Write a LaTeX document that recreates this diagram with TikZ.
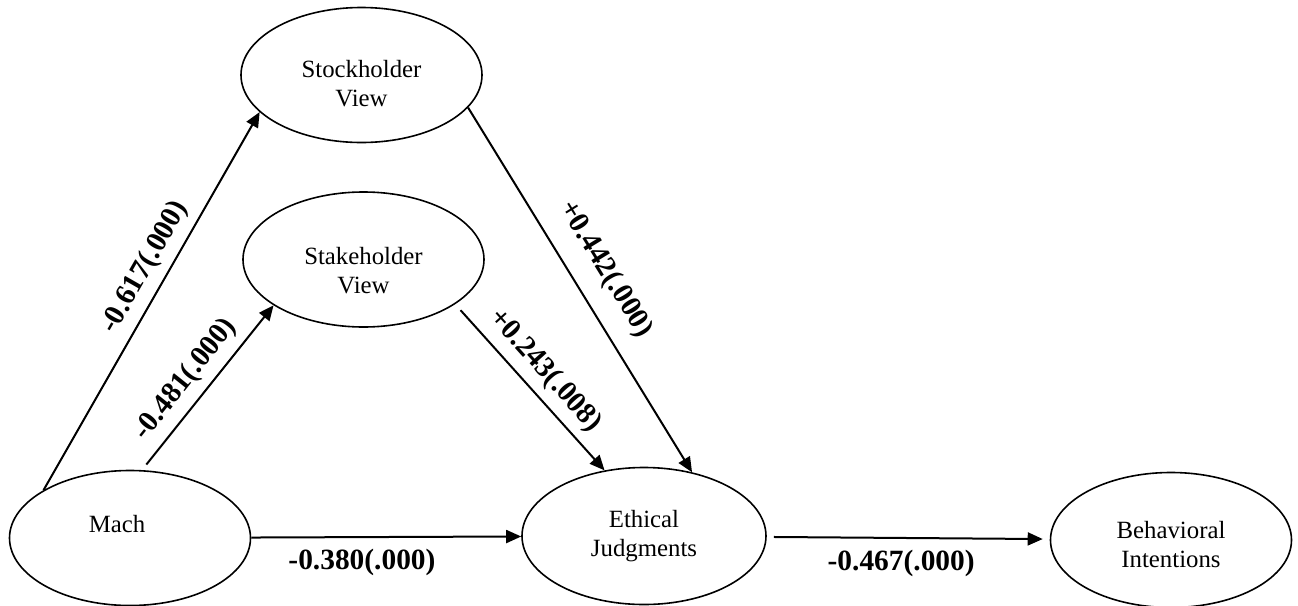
\documentclass[tikz,border=0pt]{standalone}
\usepackage{fontspec}
\setmainfont{Liberation Serif}
\usetikzlibrary{shapes.geometric,arrows.meta}

\begin{document}
\begin{tikzpicture}[x=0.5pt, y=-0.5pt, line width=1pt, >={Triangle[length=7.5pt,width=6.5pt]},
    latent/.style={ellipse, draw, line width=0.8pt, minimum width=120.5pt, minimum height=67.5pt, inner sep=0pt, align=center, font=\fontsize{12.4}{14.5}\selectfont},
    coef/.style={font=\fontsize{14.7}{17}\selectfont\bfseries, inner sep=2pt}]
      \useasboundingbox (0,0) rectangle (1298,606);
      \node (stock) [latent, text height=32pt] at (361.5,75) {Stockholder\\View};
      \node (stake) [latent, text height=34.6pt] at (363.5,259.5) {Stakeholder\\View};
      \node (mach) [latent] at (130,538) {Mach\kern13pt\\\mbox{}};
      \node (ethical) [latent, minimum width=122pt, minimum height=68.5pt] at (644,536) {Ethical\\Judgments};
      \node (behav) [latent, text height=28pt] at (1171,540) {Behavioral\\Intentions};
      \draw [->] (mach.151) -- node [coef, sloped, above=2pt, pos=0.56] {-0.617(.000)} (stock.200);
      \draw [->, shorten <=3.5pt] (mach.80) -- node [coef, sloped, above=2pt, pos=0.465] {-0.481(.000)} (stake.207);
      \draw [->] (stock.343) -- node [coef, sloped, above=7pt, pos=0.49] {+0.442(.000)} (ethical.53);
      \draw [->, shorten <=4pt] (stake.334) -- node [coef, sloped, above=2pt, pos=0.49] {+0.243(.008)} (ethical.121);
      \draw [->] (mach) -- node [coef, below=3.5pt, pos=0.41] {-0.380(.000)} (ethical);
      \draw [->, shorten <=3.5pt, shorten >=3.5pt] (ethical) -- node [coef, below=3.5pt, pos=0.475] {-0.467(.000)} (behav);
  \end{tikzpicture}
\end{document}
